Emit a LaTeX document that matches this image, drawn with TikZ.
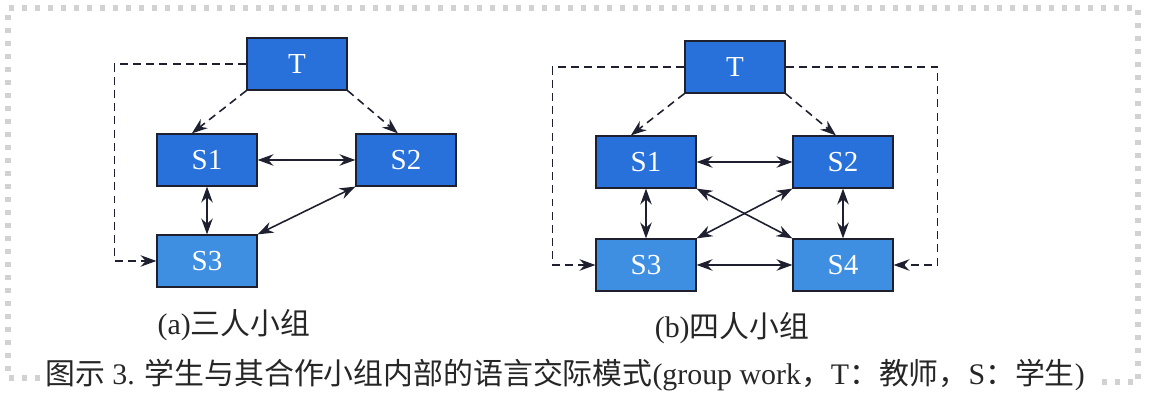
\documentclass[tikz,border=0pt]{standalone}
\usepackage{fontspec}
\setmainfont{Liberation Serif}
\newfontfamily\cjk{Noto Sans CJK SC}
\usepackage{xcolor}
\usepackage{tikz}
\usetikzlibrary{arrows.meta, positioning, calc}

\definecolor{boxblue}{RGB}{40,112,218}
\definecolor{boxlight}{RGB}{62,142,226}
\definecolor{ink}{RGB}{30,32,48}

\begin{document}
\begin{tikzpicture}[x=0.02cm, y=-0.02cm,
    member/.style={draw=ink, line width=0.7pt, fill=boxblue, text=white,
      minimum width=2cm, minimum height=1.04cm, inner sep=0pt,
      font=\fontsize{16.5}{18}\selectfont},
    lower/.style={member, fill=boxlight},
    talk/.style={ink, line width=0.9pt, {Stealth[length=9pt,width=6.5pt]}-{Stealth[length=9pt,width=6.5pt]}},
    guide/.style={ink, line width=0.9pt, dash pattern=on 4.5pt off 3pt, -{Stealth[length=9pt,width=6.5pt]}},
    frame/.style={gray!35, line width=3pt, dash pattern=on 3pt off 4.4pt},
    label/.style={text=black!85, font=\fontsize{17}{19}\selectfont}]
      \useasboundingbox (0,0) rectangle (1156,394);
      % scanned page border
      \draw[frame] (40,378) -- (8,378) -- (8,8) -- (1138,8) -- (1138,382) -- (1095,382);

      % (a) three students
      \node[member] (Ta) at (297,64) {T};
      \node[member] (S1a) at (207,160) {S1};
      \node[member] (S2a) at (406,160) {S2};
      \node[lower] (S3a) at (207,261) {S3};
      \draw[guide] (Ta.south west) -- ($(S1a.north west)!0.35!(S1a.north east)$);
      \draw[guide] (Ta.south east) -- ($(S2a.north west)!0.42!(S2a.north east)$);
      \draw[guide] (Ta.west) -- ++(-132,0) |- (S3a.west);
      \draw[talk] (S1a.east) -- (S2a.west);
      \draw[talk] (S1a.south) -- (S3a.north);
      \draw[talk] (S2a.south west) -- (S3a.north east);
      \node[label] (capa) at (234,325) {(a){\cjk 三人小组}};

      % (b) four students
      \node[member] (Tb) at (735,67) {T};
      \node[member] (S1b) at (646,162) {S1};
      \node[member] (S2b) at (843,162) {S2};
      \node[lower] (S3b) at (646,265) {S3};
      \node[lower] (S4b) at (843,265) {S4};
      \draw[guide] (Tb.south west) -- ($(S1b.north west)!0.35!(S1b.north east)$);
      \draw[guide] (Tb.south east) -- ($(S2b.north west)!0.43!(S2b.north east)$);
      \draw[guide] (Tb.west) -- ++(-132,0) |- (S3b.west);
      \draw[guide] (Tb.east) -- ++(152,0) |- (S4b.east);
      \draw[talk] (S1b.east) -- (S2b.west);
      \draw[talk] (S3b.east) -- (S4b.west);
      \draw[talk] (S1b.south) -- (S3b.north);
      \draw[talk] (S2b.south) -- (S4b.north);
      \draw[talk] (S1b.south east) -- (S4b.north west);
      \draw[talk] (S2b.south west) -- (S3b.north east);
      \node[label] (capb) at (732,328) {(b){\cjk 四人小组}};

      \node[label] (caption) at (565,375) {{\cjk 图示} 3. {\cjk 学生与其合作小组内部的语言交际模式}(group work{\cjk ，}T{\cjk ：教师，}S{\cjk ：学生})};
    \end{tikzpicture}
\end{document}
